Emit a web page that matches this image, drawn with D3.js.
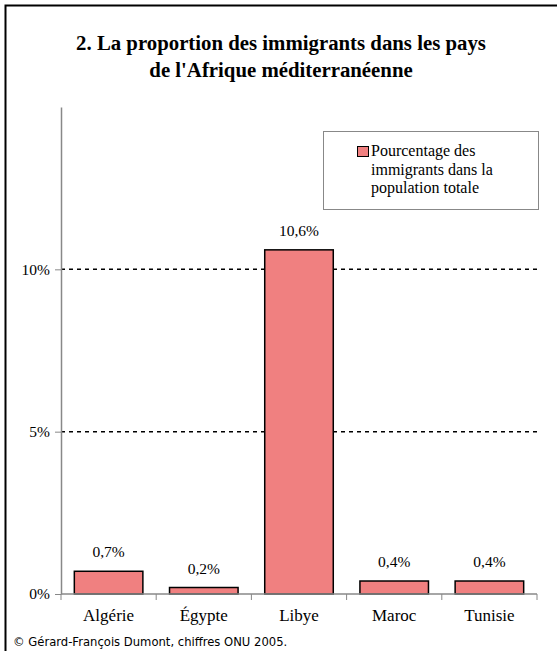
<!DOCTYPE html>
<html>
<head>
<meta charset="utf-8">
<script src="https://cdn.jsdelivr.net/npm/d3@7"></script>
<style>
  body { margin: 0; background: #fff; }
  svg { display: block; }
</style>
</head>
<body>
<svg width="557" height="651"></svg>
<script>
// data
const countries = ["Algérie", "Égypte", "Libye", "Maroc", "Tunisie"];
const shares = [0.7, 0.2, 10.6, 0.4, 0.4];
const shareLabels = ["0,7%", "0,2%", "10,6%", "0,4%", "0,4%"];
const yTicks = [0, 5, 10];
const yTickLabels = ["0%", "5%", "10%"];
const titleLines = ["2. La proportion des immigrants dans les pays", "de l'Afrique méditerranéenne"];
const legendLines = ["Pourcentage des", "immigrants dans la", "population totale"];
const source = "© Gérard-François Dumont, chiffres ONU 2005.";

const svg = d3.select("svg");
const serif = "'Liberation Serif', 'DejaVu Serif', serif";
const barColor = "#f08080";

// frame (right and bottom run off the picture)
svg.append("rect")
  .attr("x", 5.5).attr("y", 5.5)
  .attr("width", 700).attr("height", 800)
  .attr("fill", "none").attr("stroke", "#000").attr("stroke-width", 2);

// title
svg.append("g").selectAll("text")
  .data(titleLines)
  .enter().append("text")
  .attr("x", 281).attr("y", (d, i) => 50 + i * 27)
  .attr("text-anchor", "middle")
  .style("font-family", serif).style("font-weight", "bold").style("font-size", "20.8px")
  .text(d => d);

// scales
const x = d3.scaleBand().domain(countries).range([61, 537])
  .paddingInner(0.28).paddingOuter(0.14);
const y = d3.scaleLinear().domain([0, 15]).range([594, 107]);

// gridlines
svg.append("g").selectAll("line")
  .data(yTicks.filter(d => d > 0))
  .enter().append("line")
  .attr("x1", 61).attr("x2", 537)
  .attr("y1", d => y(d)).attr("y2", d => y(d))
  .attr("stroke", "#000").attr("stroke-width", 1.5)
  .attr("stroke-dasharray", "4,4");

// bars
svg.append("g").selectAll("rect")
  .data(shares)
  .enter().append("rect")
  .attr("x", (d, i) => x(countries[i]))
  .attr("y", d => y(d))
  .attr("width", x.bandwidth())
  .attr("height", d => y(0) - y(d))
  .attr("fill", barColor).attr("stroke", "#000").attr("stroke-width", 1.5);

// value labels
svg.append("g").selectAll("text")
  .data(shares)
  .enter().append("text")
  .attr("x", (d, i) => x(countries[i]) + x.bandwidth() / 2)
  .attr("y", d => y(d) - 14)
  .attr("text-anchor", "middle")
  .style("font-family", serif).style("font-size", "15.5px")
  .text((d, i) => shareLabels[i]);

// y axis
const yAxis = svg.append("g").attr("transform", "translate(61,0)")
  .call(d3.axisLeft(y).tickValues(yTicks).tickSize(6).tickSizeOuter(0)
    .tickFormat((d, i) => yTickLabels[i]));
yAxis.select(".domain").attr("stroke", "#888").attr("stroke-width", 1.5);
yAxis.selectAll(".tick line").attr("stroke", "#888");
yAxis.selectAll(".tick text")
  .attr("x", -11).attr("dy", "0.32em")
  .style("font-family", serif).style("font-size", "15.5px").attr("fill", "#000");

// x axis: ticks between categories
const xAxis = svg.append("g").attr("transform", "translate(0," + y(0) + ")");
const bounds = countries.map(c => x(c) - x.step() * x.paddingInner() / 2).concat([537]);
bounds[0] = 61;
xAxis.append("line").attr("x1", 61).attr("x2", 537)
  .attr("stroke", "#888").attr("stroke-width", 1.5);
xAxis.selectAll(".tk").data(bounds).enter().append("line")
  .attr("x1", d => d).attr("x2", d => d).attr("y1", 0).attr("y2", 6)
  .attr("stroke", "#888");
xAxis.selectAll("text").data(countries).enter().append("text")
  .attr("x", d => x(d) + x.bandwidth() / 2)
  .attr("y", 27)
  .attr("text-anchor", "middle")
  .style("font-family", serif).style("font-size", "17px")
  .text(d => d);

// legend
const legend = svg.append("g");
legend.append("rect")
  .attr("x", 323.5).attr("y", 131.5).attr("width", 215).attr("height", 78)
  .attr("fill", "#fff").attr("stroke", "#888").attr("stroke-width", 1);
legend.append("rect")
  .attr("x", 357.5).attr("y", 146.5).attr("width", 11).attr("height", 10)
  .attr("fill", barColor).attr("stroke", "#000").attr("stroke-width", 1);
legend.selectAll("text").data(legendLines).enter().append("text")
  .attr("x", 371).attr("y", (d, i) => 156 + i * 18.5)
  .style("font-family", serif).style("font-size", "16px")
  .text(d => d);

// source
svg.append("text")
  .attr("x", 13).attr("y", 646)
  .style("font-family", "'DejaVu Sans', sans-serif").style("font-size", "11.6px")
  .text(source);
</script>
</body>
</html>
